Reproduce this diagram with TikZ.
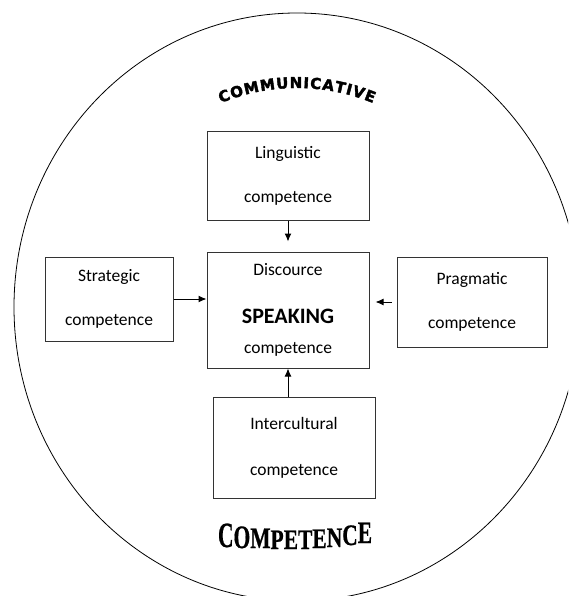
\documentclass[tikz,border=0pt]{standalone}
\usepackage{fontspec}
\setmainfont{Carlito}
\newfontfamily\archfont{DejaVu Sans}[BoldFeatures={FakeBold=2.5}]
\newfontfamily\seriffont{Liberation Serif}[BoldFeatures={FakeBold=0.8}]
\usetikzlibrary{arrows.meta,calc}

\tikzset{
	compbox/.style={draw=black!80, line width=1pt, align=center, inner sep=0pt,
		font=\fontsize{17.5}{44}\selectfont},
	arr/.style={line width=1pt, -{Latex[length=8pt,width=7pt]}},
	commletter/.style={anchor=base, inner sep=0pt, font=\archfont\bfseries\fontsize{15}{16}\selectfont},
	completter/.style={anchor=base, inner sep=0pt, font=\seriffont\bfseries\fontsize{21.5}{22}\selectfont},
}

\begin{document}
\begin{tikzpicture}[x=1pt,y=-1pt]
		\useasboundingbox (0,0) rectangle (568,596);
		\begin{scope}
			\clip (0,0) rectangle (568,596);
			\draw[line width=0.8pt] (297,307) ellipse [x radius=283, y radius=294];
		\end{scope}
%
		\node[compbox, minimum width=162pt, minimum height=88pt] (ling) at (288,176) {Linguistic\\competence};
		\node[compbox, minimum width=162pt, minimum height=116pt, font=\fontsize{17.5}{30}\selectfont] (disc) at (288,310)
			{Discource\\[18pt]{\bfseries\fontsize{22}{30}\selectfont SPEAKING}\\competence};
		\node[compbox, minimum width=128pt, minimum height=84pt] (strat) at (109,299) {Strategic\\competence};
		\node[compbox, minimum width=150pt, minimum height=90pt] (prag) at (472,302) {Pragmatic\\competence};
		\node[compbox, minimum width=162pt, minimum height=101pt] (inter) at (294,447.5) {Intercultural\\[2pt]competence};
%
		\draw[arr, shorten >=10pt] (ling) -- (disc);
		\draw[arr] (strat.east) -- (strat.east -| disc.west);
		\draw[arr, shorten <=5pt, shorten >=6pt] (prag.west) -- (prag.west -| disc.east);
		\draw[arr] (disc.south |- inter.north) -- (disc.south);
%
		% arched title, letters on a circle of radius 200
		\foreach \ch/\s [count=\i] in {C/-72.6, O/-59.7, M/-44.9, M/-28.95, U/-14.4, N/-1.03, I/9.04,
			C/18.33, A/30.63, T/42.56, I/51.46, V/61.05, E/72.99}
			\node[commletter, rotate={-1*(\s)*57.2958/200}] (comm\i)
				at ({297+200*sin(\s/200 r)}, {288-200*cos(\s/200 r)}) {\ch};
%
		\foreach \ch/\xx/\yy/\kk [count=\i] in {C/225.8/547/1.65, O/241.9/548/1.52, M/260.4/548/1.38,
			P/277.1/549/1.31, E/290.9/549/1.31, T/305.2/549/1.31, E/319.5/548/1.31,
			N/334.5/547/1.31, C/350/545/1.38, E/364.9/543/1.45}
			\node[completter] (comp\i) at (\xx,\yy) {\scalebox{1}[\kk]{\ch}};
	\end{tikzpicture}
\end{document}
